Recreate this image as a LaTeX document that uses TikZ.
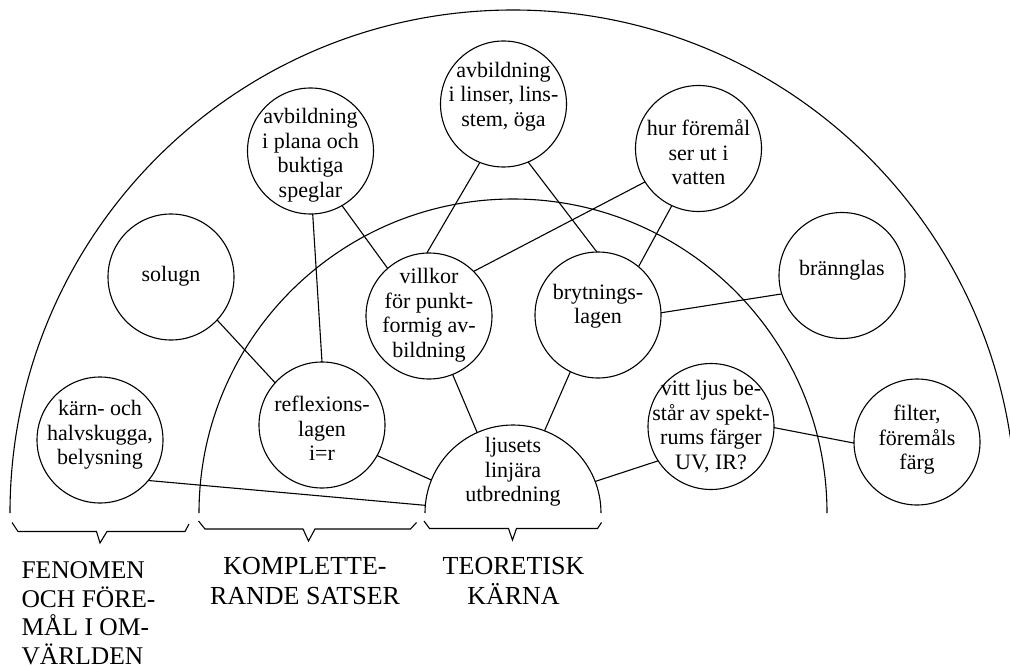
\documentclass[tikz,border=0pt]{standalone}
\usepackage{fontspec}
\setmainfont{Liberation Serif}
\begin{document}
\begin{tikzpicture}[x=1pt,y=-1pt,line width=1.1pt,
  bub/.style={circle,draw,minimum size=126pt,inner sep=0pt,outer sep=0pt},
  dome/.style={circle,minimum size=176pt,inner sep=0pt,outer sep=0pt},
  txt/.style={align=center,inner sep=0pt,font=\fontsize{22}{24.5}\selectfont,
    execute at begin node=\strut,execute at end node=\strut},
  captxt/.style={inner sep=0pt,font=\fontsize{26}{30}\selectfont},
  captxtl/.style={inner sep=0pt,font=\fontsize{25.5}{28.4}\selectfont},
  link/.style={line width=1.1pt},
  rim/.style={line width=1.1pt},
  brace/.style={line width=1.1pt,line join=miter}]
\useasboundingbox (0,0) rectangle (1010,666);
\clip (0,0) rectangle (1010,666);
% zones
\coordinate (c0) at (513,513);
\draw[rim] (10,513) arc[start angle=180,end angle=0,radius=503pt];
\draw[rim] (199,513) arc[start angle=180,end angle=0,radius=314pt];
% bubbles
\node[bub] (spegl) at (310.5,151) {};
\node[txt] (speglt) at (310.5,156.5) {avbildning\\i plana och\\buktiga\\speglar};
\node[bub] (solugn) at (171,277) {};
\node[txt] (solugnt) at (171,276.5) {solugn};
\node[bub] (linser) at (503.5,104) {};
\node[txt] (linsert) at (503.5,98) {avbildning\\i linser, lins-\\stem, öga};
\node[bub] (villkor) at (429,316) {};
\node[txt] (villkort) at (429,316.5) {villkor\\för punkt-\\formig av-\\bildning};
\node[bub] (hur) at (698.5,148.5) {};
\node[txt] (hurt) at (698.5,156) {hur föremål\\ser ut i\\vatten};
\node[bub] (bryt) at (598,315) {};
\node[txt] (brytt) at (598,307.5) {brytnings-\\lagen};
\node[bub] (brann) at (842,275.5) {};
\node[txt] (brannt) at (842,270.7) {brännglas};
\node[bub] (karn) at (100,440) {};
\node[txt] (karnt) at (100,436.5) {kärn- och\\halvskugga,\\belysning};
\node[bub] (refl) at (322,425) {};
\node[txt] (reflt) at (322,432) {reflexions-\\lagen\\i=r};
\node[bub] (vitt) at (711,426.5) {};
\node[txt] (vittt) at (711,428.5) {vitt ljus be-\\står av spekt-\\rums färger\\UV, IR?};
\node[bub] (filter) at (917,442) {};
\node[txt] (filtert) at (917,441) {filter,\\föremåls\\färg};
\node[dome] (lj) at (513,513) {};
\draw[rim] (lj.west) arc[start angle=180,end angle=0,radius=88pt];
\node[txt] (ljt) at (513,473.5) {ljusets\\linjära\\utbredning};
% links
\draw[link] (spegl.-60) -- (villkor.131);
\draw[link] (spegl.-88) -- (refl.90);
\draw[link] (linser.-112) -- (villkor.92);
\draw[link] (linser.-67) -- (bryt.91);
\draw[link] (hur.212) -- (villkor.45);
\draw[link] (hur.-115) -- (bryt.50);
\draw[link] (bryt.2) -- (brann.197);
\draw[link] (solugn.-43) -- (refl.138);
\draw[link] (villkor.-68) -- (lj.114);
\draw[link] (bryt.-116) -- (lj.69);
\draw[link] (refl.-29) -- (lj.158);
\draw[link] (karn.-40) -- (lj.175);
\draw[link] (lj.21) -- (vitt.213);
\draw[link] (vitt.-1) -- (filter.181);
% braces
\draw[brace] (12,522.5) -- (18,531.5) -- (96.5,531.5) -- (100,543) -- (107,531.5) -- (185,531.5) -- (189,524);
\draw[brace] (198.5,521) -- (205,529) -- (303,529) -- (308.5,541) -- (315,529) -- (410.5,529) -- (416.5,522.5);
\draw[brace] (424,521) -- (429.5,528.5) -- (508.5,528.5) -- (512.5,540) -- (516.5,528.5) -- (597.5,528.5) -- (601.5,522.5);
% captions
\node[captxtl,align=left,anchor=north west] (fen) at (21,561.5) {FENOMEN\\OCH FÖRE-\\MÅL I OM-\\VÄRLDEN};
\node[captxt,align=center,anchor=north] (komp) at (305,556.5) {KOMPLETTE-\\RANDE SATSER};
\node[captxt,align=center,anchor=north] (teor) at (513.5,556.5) {TEORETISK\\KÄRNA};
\end{tikzpicture}
\end{document}
